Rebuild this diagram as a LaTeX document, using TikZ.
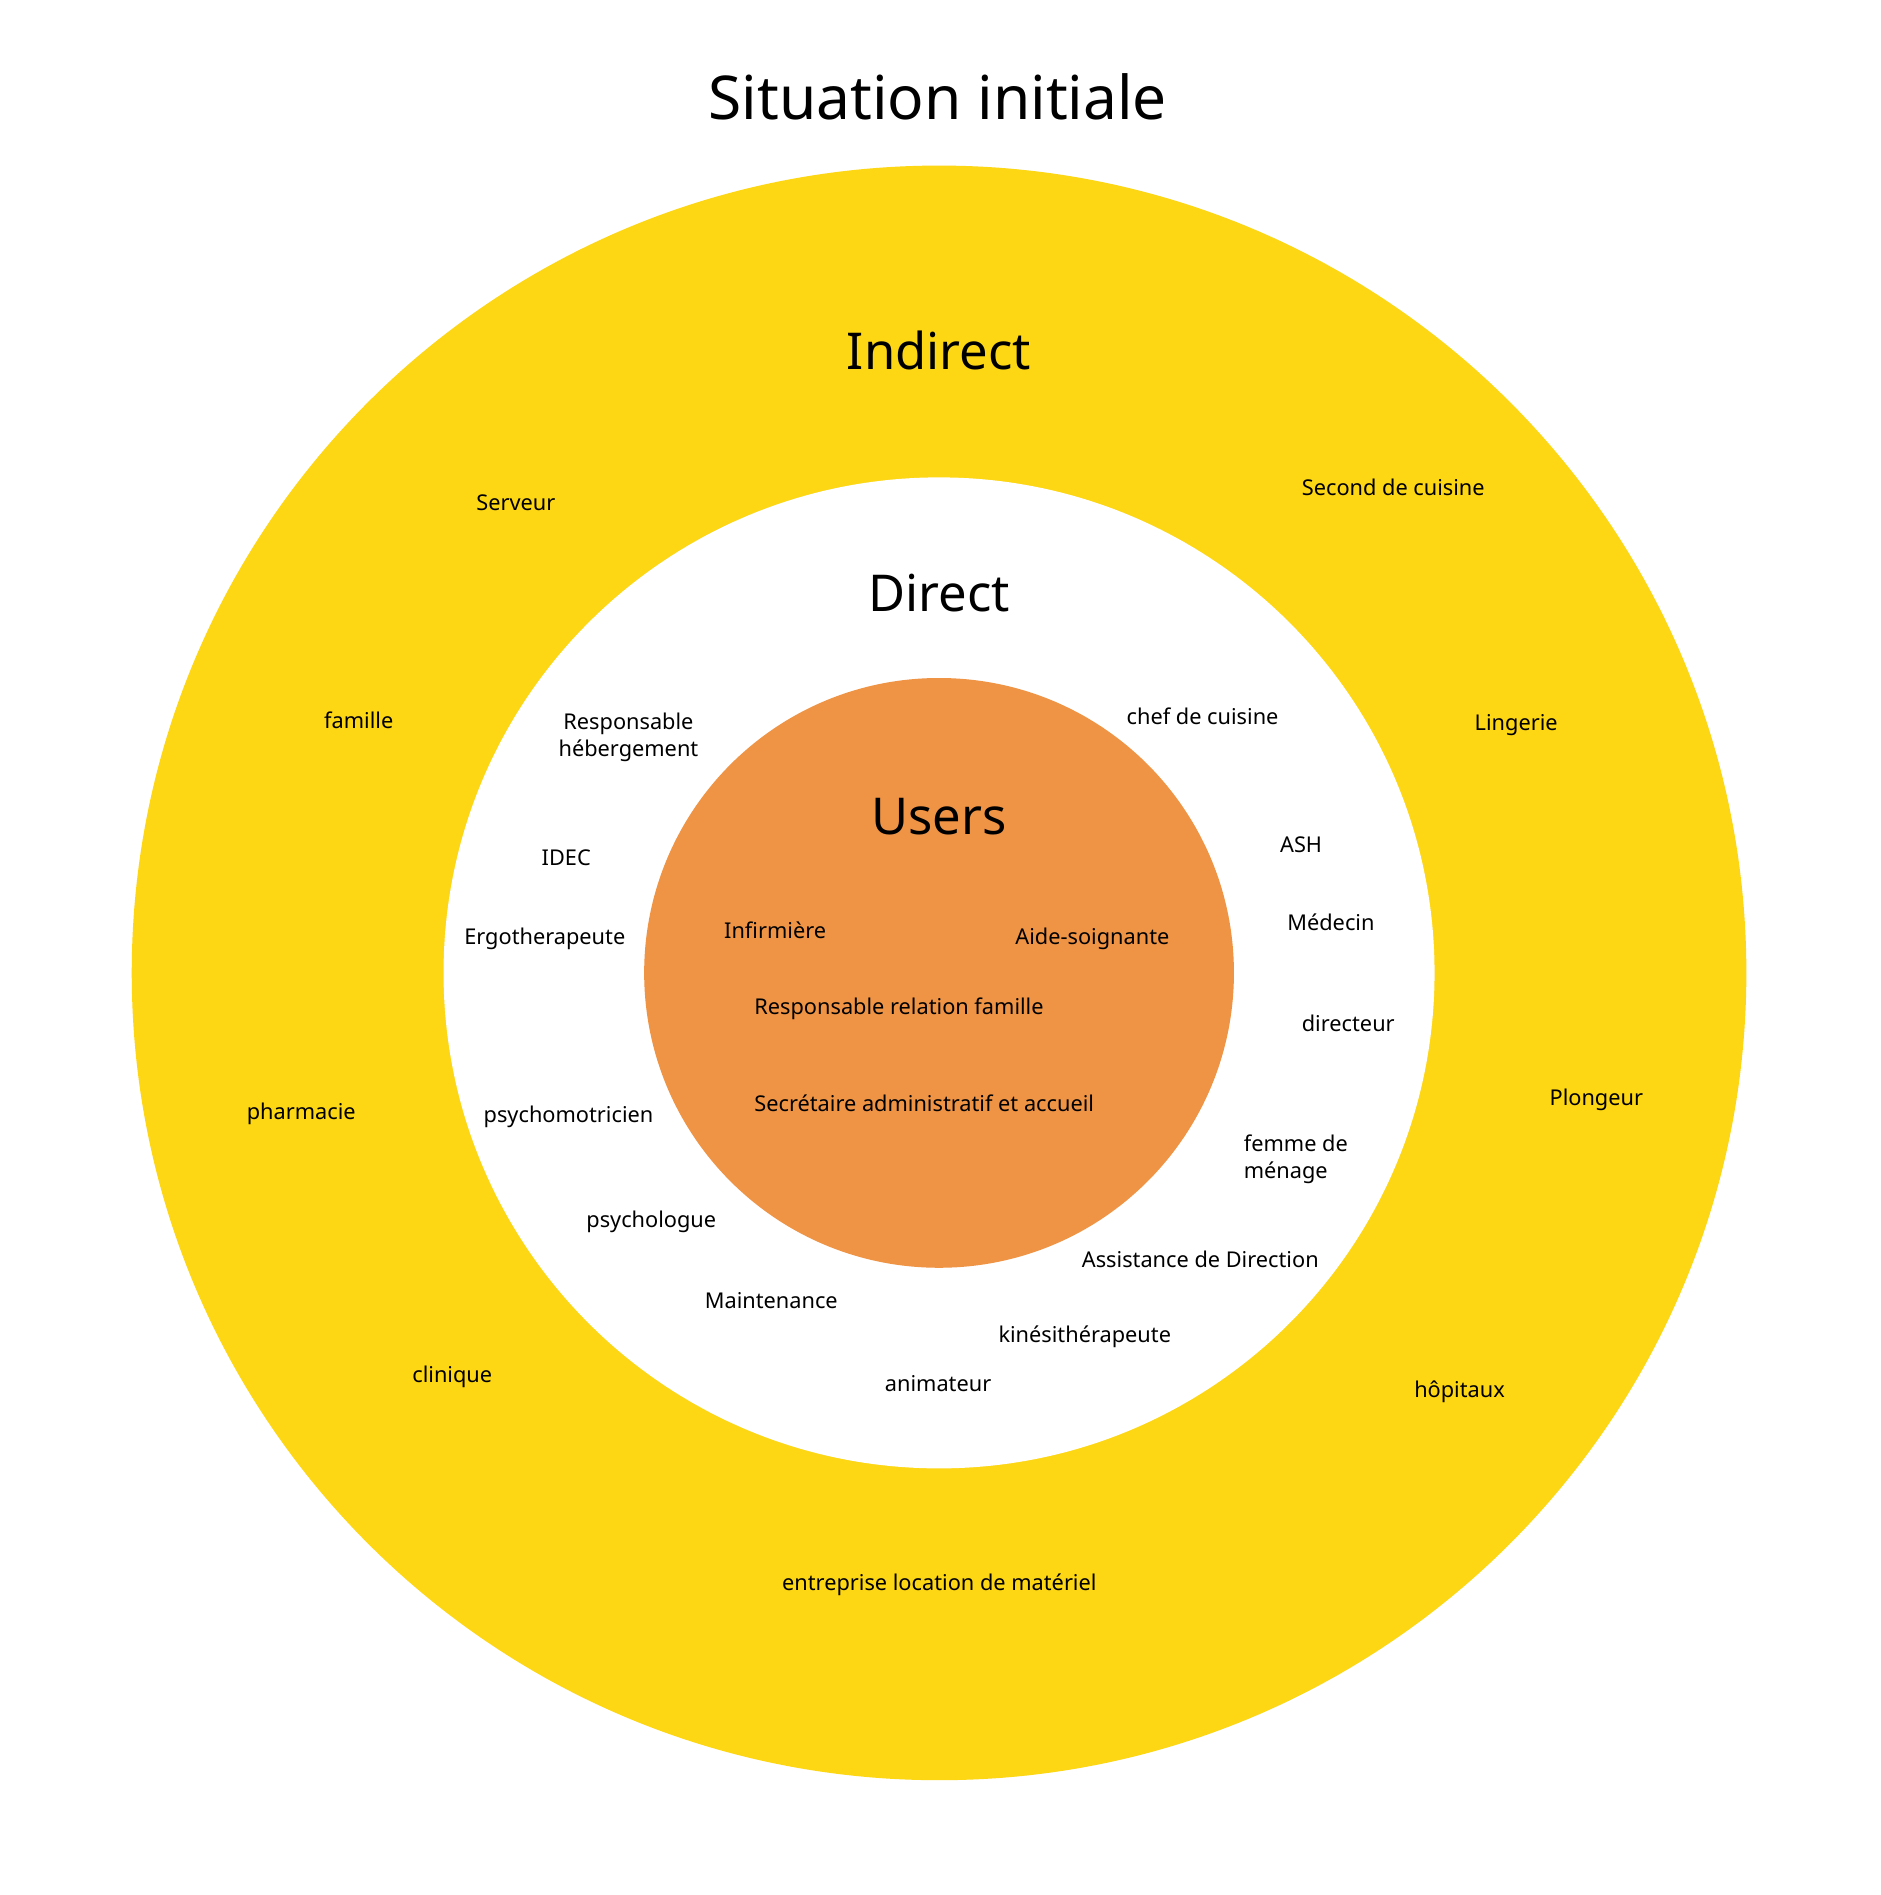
\documentclass[tikz,border=0pt]{standalone}
\usepackage{fontspec}
\setmainfont{Noto Sans}
\definecolor{ring}{HTML}{FDD614}
\definecolor{core}{HTML}{EF9345}
\begin{document}
\begin{tikzpicture}[x=1pt,y=-1pt,
  lbl/.style={anchor=west,inner sep=0pt,font=\fontsize{18}{22}\selectfont},
  big/.style={inner sep=0pt,font=\fontsize{42}{48}\selectfont}]
\useasboundingbox[fill=white] (0,0) rectangle (1556,1568);
\fill[ring] (777,805) circle[radius=668];
\fill[white] (777,805) circle[radius=410];
\fill[core] (777,805) circle[radius=244];
\node[inner sep=0pt,font=\fontsize{50}{56}\selectfont] (title) at (776,80) {Situation initiale};
\node[big] (ind) at (777,290) {Indirect};
\node[big] (dir) at (777,491) {Direct};
\node[big] (usr) at (777,676) {Users};
\node[lbl] (n1) at (394,416) {Serveur};
\node[lbl] (n2) at (1077,403) {Second de cuisine};
\node[lbl] (n3) at (268,596) {famille};
\node[lbl] (n4) at (1220,600) {Lingerie};
\node[lbl,anchor=center,align=center] (n5) at (520,610) {Responsable\\hébergement};
\node[lbl] (n6) at (932,593) {chef de cuisine};
\node[lbl] (n7) at (448,710) {IDEC};
\node[lbl] (n8) at (1059,699) {ASH};
\node[lbl] (n9) at (384,777) {Ergotherapeute};
\node[lbl] (n10) at (599,770) {Infirmière};
\node[lbl] (n11) at (840,777) {Aide-soignante};
\node[lbl] (n12) at (1065,763) {Médecin};
\node[lbl] (n13) at (624,835) {Responsable relation famille};
\node[lbl] (n14) at (1077,847) {directeur};
\node[lbl] (n15) at (1282,910) {Plongeur};
\node[lbl] (n16) at (204,922) {pharmacie};
\node[lbl] (n17) at (400,924) {psychomotricien};
\node[lbl] (n18) at (624,913) {Secrétaire administratif et accueil};
\node[lbl,align=left] (n19) at (1029,959) {femme de\\ménage};
\node[lbl] (n20) at (485,1011) {psychologue};
\node[lbl] (n21) at (895,1042) {Assistance de Direction};
\node[lbl] (n22) at (583,1076) {Maintenance};
\node[lbl] (n23) at (826,1106) {kinésithérapeute};
\node[lbl] (n24) at (732,1145) {animateur};
\node[lbl] (n25) at (341,1139) {clinique};
\node[lbl] (n26) at (1170,1152) {hôpitaux};
\node[lbl] (n27) at (647,1311) {entreprise location de matériel};
\end{tikzpicture}
\end{document}
